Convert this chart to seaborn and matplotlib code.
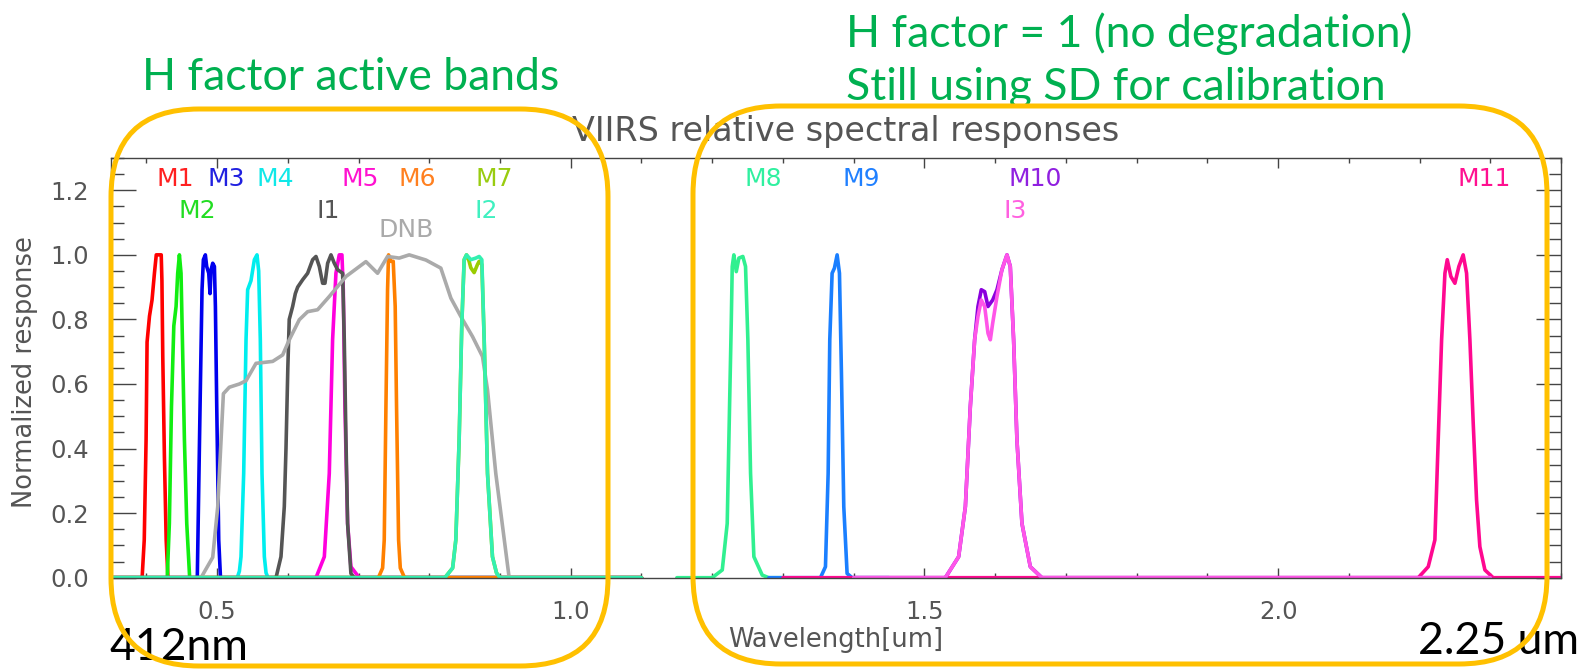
import matplotlib
matplotlib.use("Agg")
import matplotlib.pyplot as plt
import seaborn as sns
import pandas as pd
from matplotlib.patches import FancyBboxPatch
from matplotlib.ticker import MultipleLocator, FixedLocator
from matplotlib.transforms import IdentityTransform

sns.set_style("ticks")
plt.rcParams['font.family'] = ['DejaVu Sans']

# ---------------- data (wavelength in um, normalized response) ----------------
M1_WL = [0.35, 0.394, 0.397, 0.3996, 0.401, 0.4044, 0.408, 0.4114, 0.414, 0.421, 0.422, 0.4232, 0.4255, 0.428, 0.4305, 1.10]
M1_RSP = [0, 0, 0.117, 0.427, 0.73, 0.81, 0.86, 0.943, 1.0, 1.0, 0.92, 0.685, 0.375, 0.117, 0, 0]

M2_WL = [0.35, 0.4295, 0.4325, 0.4355, 0.4388, 0.4420, 0.4443, 0.4467, 0.4490, 0.4514, 0.4538, 0.4571, 0.4612, 1.10]
M2_RSP = [0, 0, 0.168, 0.53, 0.78, 0.84, 0.943, 1.0, 0.943, 0.69, 0.427, 0.168, 0, 0]

M3_WL = [0.35, 0.4720, 0.4759, 0.4787, 0.4806, 0.4834, 0.4853, 0.4882, 0.4900, 0.4915, 0.4938, 0.4962, 0.4976, 0.4995, 0.5023, 0.5048, 1.10]
M3_RSP = [0, 0, 0.53, 0.892, 0.985, 1.0, 0.964, 0.943, 0.88, 0.954, 0.974, 0.964, 0.84, 0.53, 0.117, 0, 0]

M4_WL = [0.35, 0.5285, 0.5315, 0.5338, 0.5376, 0.5409, 0.5432, 0.5479, 0.5527, 0.5564, 0.5588, 0.5611, 0.5635, 0.5668, 0.5692, 0.5720, 1.10]
M4_RSP = [0, 0, 0.02, 0.065, 0.323, 0.737, 0.892, 0.92, 0.985, 1.0, 0.95, 0.737, 0.323, 0.065, 0.015, 0, 0]

I1_WL = [0.35, 0.5833, 0.5903, 0.5950, 0.5974, 0.6000, 0.6020, 0.6068, 0.6106, 0.6139, 0.6210, 0.6280, 0.6351, 0.6398,
         0.6445, 0.6492, 0.6525, 0.6563, 0.6610, 0.6657, 0.6704, 0.6775, 0.6798, 0.6822, 0.6845, 0.6892, 0.6940, 1.10]
I1_RSP = [0, 0, 0.065, 0.22, 0.40, 0.65, 0.80, 0.84, 0.88, 0.90, 0.923, 0.943, 0.985, 0.995,
          0.964, 0.912, 0.912, 0.974, 1.0, 0.974, 0.954, 0.943, 0.737, 0.427, 0.168, 0.013, 0, 0]

M5_WL = [0.35, 0.6398, 0.6516, 0.6586, 0.6633, 0.6680, 0.6727, 0.6765, 0.6784, 0.6807, 0.6845, 0.6892, 0.7010, 1.10]
M5_RSP = [0, 0, 0.065, 0.323, 0.737, 0.943, 1.0, 1.0, 0.892, 0.53, 0.168, 0.034, 0, 0]

M6_WL = [0.35, 0.7280, 0.7340, 0.7363, 0.7387, 0.7410, 0.7424, 0.7457, 0.7490, 0.7518, 0.7537, 0.7566, 0.7590, 0.7650, 1.10]
M6_RSP = [0, 0, 0.03, 0.117, 0.53, 0.892, 1.0, 0.98, 0.98, 0.84, 0.53, 0.117, 0.03, 0, 0]

DNB_WL = [0.35, 0.4773, 0.4938, 0.5009, 0.5056, 0.5089, 0.5173, 0.5315, 0.5409, 0.5550, 0.5786, 0.5927, 0.6021, 0.6162,
          0.6280, 0.6421, 0.6586, 0.6822, 0.7104, 0.7269, 0.7410, 0.7575, 0.7716, 0.7952, 0.8163, 0.8305, 0.8446, 0.8611,
          0.8752, 0.8823, 0.8940, 0.9129, 1.10]
DNB_RSP = [0, 0, 0.063, 0.22, 0.427, 0.57, 0.59, 0.60, 0.61, 0.664, 0.67, 0.69, 0.737, 0.799,
           0.824, 0.83, 0.871, 0.933, 0.979, 0.943, 0.995, 0.99, 1.0, 0.984, 0.959, 0.866, 0.809, 0.747,
           0.685, 0.582, 0.323, 0, 0]

M7_WL = [0.35, 0.8220, 0.8330, 0.8375, 0.8422, 0.8460, 0.8493, 0.8526, 0.8563, 0.8587, 0.8634, 0.8681, 0.8705, 0.8743, 0.8776, 0.8823, 0.8893, 0.8950, 0.9000, 1.10]
M7_RSP = [0, 0, 0.03, 0.117, 0.427, 0.788, 0.985, 1.0, 0.98, 0.96, 0.945, 0.97, 0.98, 0.97, 0.737, 0.323, 0.065, 0.015, 0, 0]

I2_WL = [0.35, 0.8220, 0.8330, 0.8375, 0.8422, 0.8460, 0.8493, 0.8526, 0.8587, 0.8658, 0.8705, 0.8743, 0.8776, 0.8823, 0.8893, 0.8950, 0.9000, 1.10]
I2_RSP = [0, 0, 0.03, 0.117, 0.427, 0.788, 0.985, 1.0, 0.985, 0.99, 0.995, 0.985, 0.737, 0.323, 0.065, 0.015, 0, 0]

M8_WL = [1.15, 1.2000, 1.2142, 1.2212, 1.2245, 1.2269, 1.2283, 1.2306, 1.2340, 1.2377, 1.2433, 1.2471, 1.2504, 1.2542, 1.2589, 1.2707, 1.2800, 1.30]
M8_RSP = [0, 0, 0.024, 0.168, 0.53, 0.788, 0.964, 1.0, 0.948, 0.99, 0.995, 0.964, 0.737, 0.323, 0.065, 0.008, 0, 0]

M9_WL = [1.28, 1.3530, 1.3601, 1.3639, 1.3662, 1.3695, 1.3728, 1.3766, 1.3799, 1.3827, 1.3860, 1.3907, 1.3978, 1.45]
M9_RSP = [0, 0, 0.034, 0.323, 0.737, 0.943, 0.959, 1.0, 0.943, 0.633, 0.22, 0.013, 0, 0]

M11_WL = [1.30, 2.1982, 2.2123, 2.2217, 2.2264, 2.2312, 2.2359, 2.2392, 2.2443, 2.2500, 2.2556, 2.2617, 2.2665, 2.2712,
          2.2759, 2.2806, 2.2853, 2.2924, 2.3041, 2.40]
M11_RSP = [0, 0, 0.034, 0.117, 0.427, 0.737, 0.943, 0.985, 0.933, 0.912, 0.964, 1.0, 0.943, 0.737,
           0.478, 0.241, 0.096, 0.024, 0, 0]

M10_WL = [1.40, 1.5296, 1.5484, 1.5579, 1.5649, 1.5710, 1.5757, 1.5804, 1.5852, 1.5899, 1.5965, 1.6026, 1.6096, 1.6167,
          1.6214, 1.6261, 1.6308, 1.6379, 1.6497, 1.6661, 2.30]
M10_RSP = [0, 0, 0.065, 0.22, 0.53, 0.737, 0.84, 0.892, 0.886, 0.84, 0.86, 0.892, 0.954, 1.0,
           0.964, 0.737, 0.427, 0.168, 0.034, 0, 0]

I3_WL = [1.40, 1.5296, 1.5484, 1.5579, 1.5649, 1.5710, 1.5757, 1.5804, 1.5852, 1.5899, 1.5932, 1.5965, 1.6026, 1.6096,
         1.6167, 1.6214, 1.6261, 1.6308, 1.6379, 1.6497, 1.6661, 2.30]
I3_RSP = [0, 0, 0.065, 0.22, 0.53, 0.737, 0.809, 0.86, 0.84, 0.757, 0.737, 0.788, 0.871, 0.954,
          1.0, 0.964, 0.737, 0.427, 0.168, 0.034, 0, 0]

BAND_NAMES = ["M1", "M2", "M3", "M4", "M5", "I1", "M6", "DNB", "M7", "I2", "M8", "M9", "M11", "M10", "I3"]
BAND_COLORS = ["#ff0000", "#11ee11", "#0000ee", "#00eeee", "#ff00dd", "#555555", "#ff8000", "#aaaaaa",
               "#99cc00", "#33f0b0", "#30f090", "#1a7fff", "#ff0890", "#8a00dd", "#ff55e8"]
BAND_DATA = {"M1": (M1_WL, M1_RSP), "M2": (M2_WL, M2_RSP), "M3": (M3_WL, M3_RSP), "M4": (M4_WL, M4_RSP),
             "M5": (M5_WL, M5_RSP), "I1": (I1_WL, I1_RSP), "M6": (M6_WL, M6_RSP), "DNB": (DNB_WL, DNB_RSP),
             "M7": (M7_WL, M7_RSP), "I2": (I2_WL, I2_RSP), "M8": (M8_WL, M8_RSP), "M9": (M9_WL, M9_RSP),
             "M11": (M11_WL, M11_RSP), "M10": (M10_WL, M10_RSP), "I3": (I3_WL, I3_RSP)}

# band labels: text, x (um), y (response)
LABEL_TEXT = ["M1", "M3", "M4", "M5", "M6", "M7", "M2", "I1", "I2", "DNB", "M8", "M9", "M10", "I3", "M11"]
LABEL_X = [0.441, 0.513, 0.582, 0.703, 0.783, 0.892, 0.472, 0.657, 0.880, 0.767, 1.272, 1.411, 1.656, 1.629, 2.291]
LABEL_Y = [1.236, 1.236, 1.236, 1.236, 1.236, 1.236, 1.136, 1.136, 1.136, 1.077, 1.236, 1.236, 1.236, 1.136, 1.236]
LABEL_COLORS = ["#ff2020", "#2020e0", "#10e8e8", "#ff10d0", "#ff8020", "#99cc10", "#22dd22", "#555555", "#40f0c0",
                "#aaaaaa", "#30f0a0", "#2080ff", "#9020e0", "#ff60e0", "#ff1090"]

X_MAJOR = [0.5, 1.0, 1.5, 2.0]
X_LABELS = ["0.5", "1.0", "1.5", "2.0"]
Y_MAJOR = [0.0, 0.2, 0.4, 0.6, 0.8, 1.0, 1.2]
Y_LABELS = ["0.0", "0.2", "0.4", "0.6", "0.8", "1.0", "1.2"]

# ---------------- figure ----------------
W, H = 1583, 669
fig = plt.figure(figsize=(W / 100, H / 100), dpi=100)
L, R, T, B = 111, 1561, 158, 577.7
ax = fig.add_axes([L / W, 1 - B / H, (R - L) / W, (B - T) / H])

for name, color in zip(BAND_NAMES, BAND_COLORS):
    wl, rsp = BAND_DATA[name]
    df = pd.DataFrame({"wl": wl, "rsp": rsp})
    sns.lineplot(data=df, x="wl", y="rsp", color=color, lw=2.6, ax=ax, sort=False,
                 estimator=None, legend=False, solid_joinstyle="round")

txtc = "#555555"
for t, x, y, c in zip(LABEL_TEXT, LABEL_X, LABEL_Y, LABEL_COLORS):
    ax.text(x, y, t, color=c, fontsize=18, ha="center", va="center")

ax.set_xlim(0.35, 2.4)
ax.set_ylim(0, 1.3)
ax.set_xlabel("")
ax.set_ylabel("")
ax.xaxis.set_major_locator(FixedLocator(X_MAJOR))
ax.set_xticklabels(X_LABELS)
ax.xaxis.set_minor_locator(MultipleLocator(0.1))
ax.yaxis.set_major_locator(FixedLocator(Y_MAJOR))
ax.set_yticklabels(Y_LABELS)
ax.yaxis.set_minor_locator(MultipleLocator(0.05))

axc = "#444444"
for s in ax.spines.values():
    s.set_color(axc)
    s.set_linewidth(1.0)
ax.tick_params(axis="x", which="major", direction="in", top=True, bottom=True, length=7, width=1,
               color=axc, labelcolor=txtc, labelsize=17.5, pad=16)
ax.tick_params(axis="x", which="minor", direction="in", top=True, bottom=True, length=3.5, width=1, color=axc)
ax.tick_params(axis="y", which="major", direction="in", left=True, right=True, length=18, width=1,
               color=axc, labelcolor=txtc, labelsize=17.5, pad=16)
ax.tick_params(axis="y", which="minor", direction="in", left=True, right=True, length=9, width=1, color=axc)

def fx(px):
    return px / W

def fy(py):
    return 1 - py / H

fig.text(fx(846), fy(131), "VIIRS relative spectral responses", ha="center", va="center",
         fontsize=24, color=txtc)
fig.text(fx(25), fy(372), "Normalized response", ha="center", va="center", rotation=90,
         fontsize=18.5, color=txtc)
fig.text(fx(836), fy(640), "Wavelength[um]", ha="center", va="center",
         fontsize=18.5, color=txtc)

green = "#00b050"
gfont = ['Lato', 'DejaVu Sans']
fig.text(fx(142), fy(77), "H factor active bands", ha="left", va="center", fontsize=32, color=green, family=gfont)
fig.text(fx(846), fy(34), "H factor = 1 (no degradation)", ha="left", va="center", fontsize=32, color=green, family=gfont)
fig.text(fx(846), fy(87), "Still using SD for calibration", ha="left", va="center", fontsize=32, color=green, family=gfont)
fig.text(fx(109), fy(648), "412nm", ha="left", va="center", fontsize=32, color="black", family=gfont)
fig.text(fx(1418), fy(642), "2.25 um", ha="left", va="center", fontsize=32, color="black", family=gfont)

orange = "#ffc000"
for x0, y0, x1, y1 in [(111, 109, 608, 666), (693, 106, 1547, 664)]:
    box = FancyBboxPatch((x0, H - y1), x1 - x0, y1 - y0, boxstyle="round,pad=0,rounding_size=88",
                         transform=IdentityTransform(), fill=False, ec=orange, lw=3.6, clip_on=False, zorder=5)
    fig.add_artist(box)

fig.savefig("out.png", dpi=100)
